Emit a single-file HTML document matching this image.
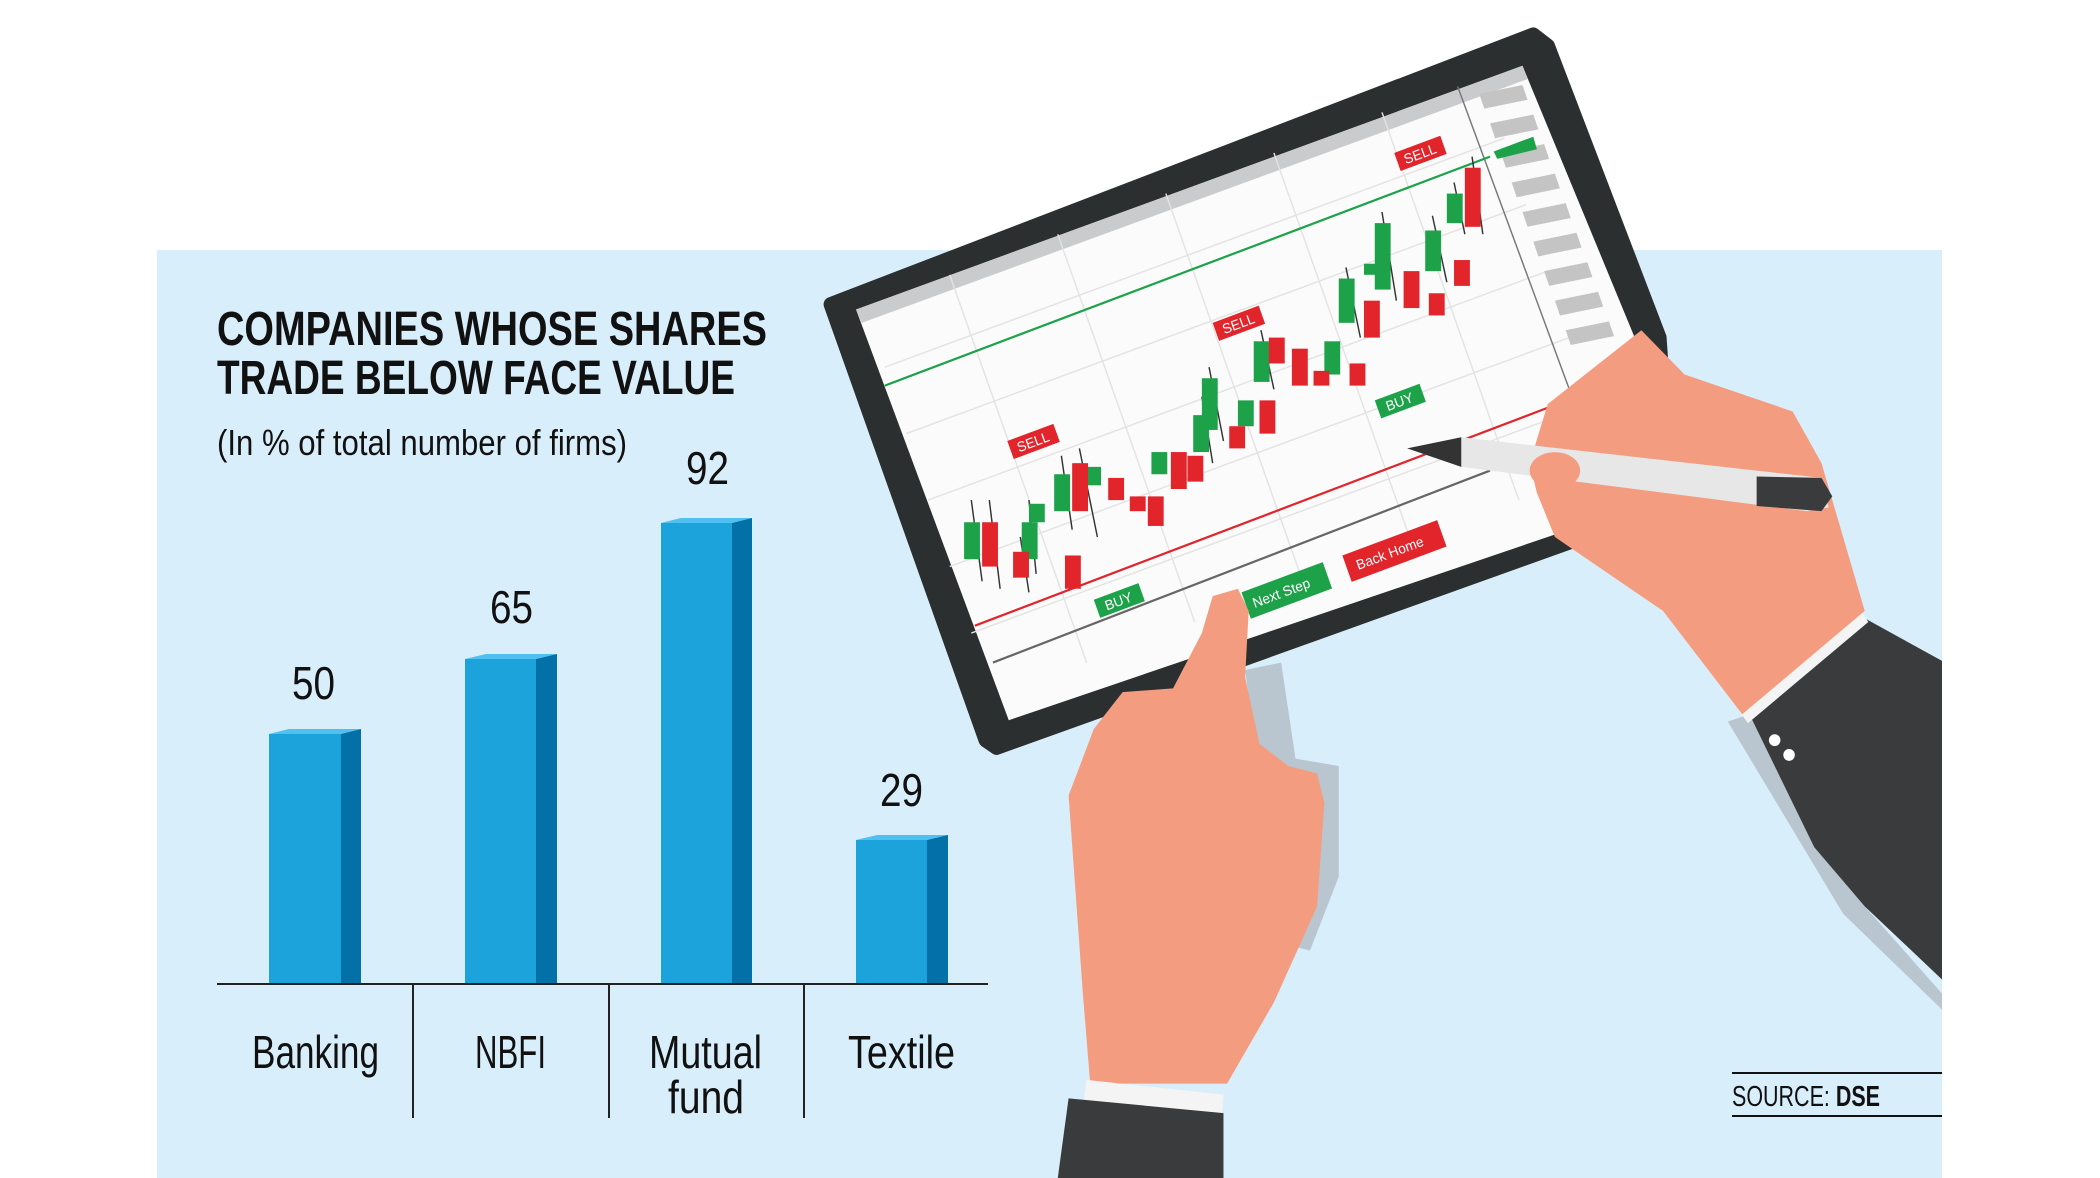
<!DOCTYPE html>
<html><head><meta charset="utf-8"><style>
html,body{margin:0;padding:0;background:#fff}
body{width:2100px;height:1178px;position:relative;overflow:hidden}
svg{position:absolute;left:0;top:0}
</style></head><body>
<svg width="2100" height="1178" viewBox="0 0 2100 1178" xmlns="http://www.w3.org/2000/svg">
<defs><clipPath id="cp"><rect x="0" y="0" width="1942" height="1178"/></clipPath></defs>
<rect x="157" y="250" width="1785" height="928" fill="#d9eefb"/>
<g font-family="Liberation Sans Narrow, Liberation Sans, sans-serif" fill="#111">
<text x="217" y="345" font-size="48" font-weight="bold" textLength="550" lengthAdjust="spacingAndGlyphs">COMPANIES WHOSE SHARES</text>
<text x="217" y="394" font-size="48" font-weight="bold" textLength="518" lengthAdjust="spacingAndGlyphs">TRADE BELOW FACE VALUE</text>
<text x="217" y="455" font-size="36" textLength="410" lengthAdjust="spacingAndGlyphs">(In % of total number of firms)</text>
</g>
<g>
<polygon points="269,734 341,734 361,729 289,729" fill="#4fc0f0"/><rect x="269" y="734" width="72" height="250" fill="#1ca3dc"/><polygon points="341,734 361,729 361,984 341,984" fill="#0370a8"/>
<polygon points="465,659 536,659 557,654 486,654" fill="#4fc0f0"/><rect x="465" y="659" width="71" height="325" fill="#1ca3dc"/><polygon points="536,659 557,654 557,984 536,984" fill="#0370a8"/>
<polygon points="661,523 732,523 752,518 681,518" fill="#4fc0f0"/><rect x="661" y="523" width="71" height="461" fill="#1ca3dc"/><polygon points="732,523 752,518 752,984 732,984" fill="#0370a8"/>
<polygon points="856,840 927,840 948,835 877,835" fill="#4fc0f0"/><rect x="856" y="840" width="71" height="144" fill="#1ca3dc"/><polygon points="927,840 948,835 948,984 927,984" fill="#0370a8"/>
</g>
<line x1="217" y1="984" x2="988" y2="984" stroke="#222" stroke-width="2"/>
<g stroke="#222" stroke-width="2"><line x1="413" y1="984" x2="413" y2="1118"/><line x1="609" y1="984" x2="609" y2="1118"/><line x1="804" y1="984" x2="804" y2="1118"/></g>
<g font-family="Liberation Sans Narrow, Liberation Sans, sans-serif" fill="#111" font-size="46" lengthAdjust="spacingAndGlyphs">
<text x="292" y="699" textLength="43" lengthAdjust="spacingAndGlyphs">50</text>
<text x="490" y="623" textLength="43" lengthAdjust="spacingAndGlyphs">65</text>
<text x="686" y="484" textLength="43" lengthAdjust="spacingAndGlyphs">92</text>
<text x="880" y="806" textLength="43" lengthAdjust="spacingAndGlyphs">29</text>
<text x="252" y="1068" textLength="127" lengthAdjust="spacingAndGlyphs">Banking</text>
<text x="475" y="1068" textLength="71" lengthAdjust="spacingAndGlyphs">NBFI</text>
<text x="649" y="1068" textLength="113" lengthAdjust="spacingAndGlyphs">Mutual</text>
<text x="668" y="1113" textLength="76" lengthAdjust="spacingAndGlyphs">fund</text>
<text x="848" y="1068" textLength="107" lengthAdjust="spacingAndGlyphs">Textile</text>
</g>
<line x1="1732" y1="1073" x2="1942" y2="1073" stroke="#111" stroke-width="2"/>
<line x1="1732" y1="1116" x2="1942" y2="1116" stroke="#111" stroke-width="2"/>
<text x="1732" y="1106" font-family="Liberation Sans Narrow, Liberation Sans, sans-serif" font-size="29" fill="#111" textLength="148" lengthAdjust="spacingAndGlyphs">SOURCE: <tspan font-weight="bold">DSE</tspan></text>

<g transform="translate(820,20) scale(0.7205,0.7386)">
 <polygon points="590,880 640,870 660,1000 720,1010 720,1160 680,1260 640,1250" fill="#b9c6cf"/>
 <polygon points="15,385 990,20 1010,35 1165,430 1180,640 1060,700 245,985 230,975" fill="#2c2f30" stroke="#2c2f30" stroke-width="20" stroke-linejoin="round"/>
 <polygon points="50,392 975,62 1135,440 1150,640 1040,690 262,948" fill="#fbfbfb"/>
 <polygon points="50,392 975,62 982,80 58,410" fill="#c9cbcc"/>
 <g stroke="#e3e3e3" stroke-width="2">
  <line x1="90" y1="470" x2="950" y2="160"/><line x1="120" y1="560" x2="980" y2="250"/><line x1="150" y1="650" x2="1010" y2="340"/><line x1="180" y1="740" x2="1040" y2="430"/><line x1="210" y1="830" x2="1070" y2="520"/>
  <line x1="180" y1="345" x2="370" y2="870"/><line x1="330" y1="290" x2="520" y2="815"/><line x1="480" y1="235" x2="670" y2="760"/><line x1="630" y1="180" x2="820" y2="705"/><line x1="780" y1="125" x2="970" y2="650"/>
 </g>
 <line x1="885" y1="90" x2="1040" y2="500" stroke="#777" stroke-width="2"/>
 <g fill="#c4c4c4">
  <polygon points="915,100 975,88 982,108 922,120"/><polygon points="930,140 990,128 997,148 937,160"/><polygon points="945,180 1005,168 1012,188 952,200"/><polygon points="960,220 1020,208 1027,228 967,240"/><polygon points="975,260 1035,248 1042,268 982,280"/><polygon points="990,300 1050,288 1057,308 997,320"/><polygon points="1005,340 1065,328 1072,348 1012,360"/><polygon points="1020,380 1080,368 1087,388 1027,400"/><polygon points="1035,420 1095,408 1102,428 1042,440"/>
 </g>
 <polygon points="935,178 990,158 995,175 940,188" fill="#1da24a"/>
 <line x1="90" y1="495" x2="930" y2="185" stroke="#1da24a" stroke-width="3"/>
 <line x1="215" y1="820" x2="1010" y2="525" stroke="#e2242b" stroke-width="3"/>
 <line x1="240" y1="870" x2="930" y2="610" stroke="#666" stroke-width="3"/>
 <g stroke="#333" stroke-width="2">
  <line x1="210" y1="650" x2="225" y2="760"/><line x1="235" y1="650" x2="250" y2="770"/><line x1="278" y1="700" x2="290" y2="775"/><line x1="290" y1="650" x2="300" y2="750"/><line x1="360" y1="580" x2="385" y2="700"/><line x1="335" y1="590" x2="350" y2="690"/><line x1="530" y1="510" x2="545" y2="600"/><line x1="540" y1="470" x2="560" y2="570"/><line x1="780" y1="260" x2="800" y2="380"/><line x1="612" y1="420" x2="630" y2="500"/><line x1="850" y1="265" x2="870" y2="355"/><line x1="880" y1="220" x2="895" y2="290"/><line x1="905" y1="185" x2="920" y2="290"/><line x1="730" y1="335" x2="750" y2="430"/>
 </g>
 <g fill="#1da24a">
  <rect x="200" y="680" width="22" height="50"/><rect x="280" y="680" width="22" height="50"/><rect x="290" y="655" width="22" height="25"/><rect x="325" y="615" width="22" height="50"/><rect x="368" y="605" width="22" height="25"/><rect x="460" y="585" width="22" height="30"/><rect x="518" y="535" width="22" height="50"/><rect x="530" y="485" width="22" height="70"/><rect x="580" y="515" width="22" height="35"/><rect x="602" y="435" width="22" height="55"/><rect x="700" y="435" width="22" height="45"/><rect x="720" y="350" width="22" height="60"/><rect x="755" y="330" width="22" height="15"/><rect x="770" y="275" width="22" height="90"/><rect x="840" y="285" width="22" height="55"/><rect x="870" y="235" width="22" height="40"/>
 </g>
 <g fill="#e2242b">
  <rect x="225" y="680" width="22" height="60"/><rect x="268" y="720" width="22" height="35"/><rect x="350" y="600" width="22" height="65"/><rect x="400" y="620" width="22" height="30"/><rect x="430" y="645" width="22" height="20"/><rect x="455" y="645" width="22" height="40"/><rect x="487" y="585" width="22" height="50"/><rect x="510" y="590" width="22" height="35"/><rect x="568" y="550" width="22" height="30"/><rect x="610" y="515" width="22" height="45"/><rect x="623" y="430" width="22" height="35"/><rect x="655" y="445" width="22" height="50"/><rect x="685" y="475" width="22" height="20"/><rect x="735" y="465" width="22" height="30"/><rect x="755" y="380" width="22" height="50"/><rect x="810" y="340" width="22" height="50"/><rect x="845" y="370" width="22" height="30"/><rect x="880" y="325" width="22" height="35"/><rect x="895" y="200" width="22" height="80"/><rect x="340" y="725" width="22" height="45"/>
 </g>
 <g font-family="Liberation Sans, sans-serif" fill="#fff" font-size="19">
  <g transform="translate(260,570) rotate(-20)"><rect x="0" y="0" width="68" height="26" fill="#e2242b"/><text x="10" y="20">SELL</text></g>
  <g transform="translate(545,410) rotate(-20)"><rect x="0" y="0" width="68" height="26" fill="#e2242b"/><text x="10" y="20">SELL</text></g>
  <g transform="translate(797,180) rotate(-20)"><rect x="0" y="0" width="68" height="26" fill="#e2242b"/><text x="10" y="20">SELL</text></g>
  <g transform="translate(380,785) rotate(-20)"><rect x="0" y="0" width="66" height="26" fill="#1da24a"/><text x="12" y="20">BUY</text></g>
  <g transform="translate(770,515) rotate(-20)"><rect x="0" y="0" width="66" height="26" fill="#1da24a"/><text x="12" y="20">BUY</text></g>
  <g transform="translate(585,775) rotate(-20)"><rect x="0" y="0" width="120" height="38" fill="#1da24a"/><text x="10" y="26">Next Step</text></g>
  <g transform="translate(725,725) rotate(-20)"><rect x="0" y="0" width="140" height="38" fill="#e2242b"/><text x="14" y="26">Back Home</text></g>
 </g>
 <polygon points="545,780 580,770 595,800 590,890 610,980 650,1010 690,1020 700,1060 690,1200 630,1330 565,1440 375,1440 365,1320 345,1050 380,960 420,910 490,905 530,830" fill="#f49c80"/>
 <polygon points="370,1435 560,1455 558,1480 366,1465" fill="#f4f4f4"/>
 <polygon points="345,1460 560,1480 560,1568 330,1568" fill="#3a3b3d"/>
</g>
<g clip-path="url(#cp)">
<g transform="translate(820,20) scale(0.7205,0.7386)">
 <polygon points="1260,950 1290,940 1450,1200 1568,1330 1568,1350 1420,1210" fill="#b9c6cf"/>
 <polygon points="1290,940 1450,810 1580,880 1580,1320 1450,1200 1380,1120" fill="#3a3b3d"/>
 <polygon points="1275,935 1445,800 1455,815 1288,952" fill="#f4f4f4"/>
 <polygon points="1010,520 1140,420 1200,480 1350,530 1390,600 1420,700 1450,800 1280,940 1170,800 1080,740 1020,700 995,640 985,600" fill="#f49c80"/>
 <circle cx="1325" cy="975" r="8" fill="#fff"/><circle cx="1345" cy="995" r="8" fill="#fff"/>
 <polygon points="815,580 890,565 1390,620 1400,660 1370,665 890,605" fill="#e7e7e7"/>
 <polygon points="815,580 890,565 890,605" fill="#333"/>
 <polygon points="1300,618 1390,620 1405,645 1390,665 1300,658" fill="#3a3b3d"/>
 <ellipse cx="1020" cy="610" rx="35" ry="25" fill="#f49c80"/>
</g>
</g>
</svg>
</body></html>
